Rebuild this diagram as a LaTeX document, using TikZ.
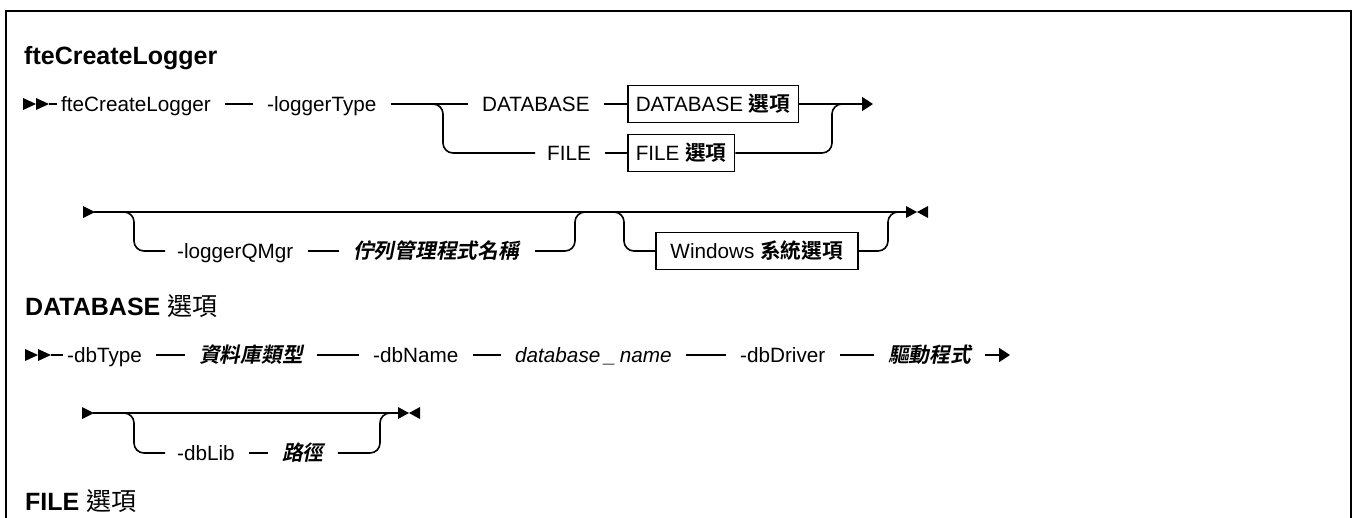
\documentclass[tikz,border=0pt]{standalone}
\usepackage{fontspec}
\setmainfont{Liberation Sans}
\newfontfamily\cjk{Noto Sans CJK TC}
\newfontfamily\cjkb{Noto Sans CJK TC Bold}
\newfontfamily\cjkbi{Noto Sans CJK TC Bold}[FakeSlant=0.2]
\usetikzlibrary{arrows.meta,calc}
\newcommand\fs{\fontsize{20.7}{24}\selectfont}
\newcommand\hs{\fontsize{25}{30}\selectfont}
\newcommand\mkR[3]{\fill (#2,#3-6) -- (#2+#1,#3) -- (#2,#3+6) -- cycle;}
\newcommand\mkL[3]{\fill (#2+#1,#3-6) -- (#2,#3) -- (#2+#1,#3+6) -- cycle;}
\begin{document}
\begin{tikzpicture}[x=1pt,y=-1pt,
 ln/.style={line width=1.6pt},
 txt/.style={inner sep=0pt,text height=14.8pt,text depth=0pt,anchor=west,font=\fs},
 cjt/.style={inner sep=0pt,text height=14.8pt,text depth=0pt,anchor=west,font=\cjkbi\fs},
 optbox/.style={draw,line width=1.5pt,inner xsep=8pt,inner ysep=0pt,minimum height=37pt,text height=14.8pt,text depth=0pt,anchor=west,font=\fs},
 head/.style={inner sep=0pt,anchor=base west,font=\hs\bfseries},
 sep/.style={ln,shorten <=14pt,shorten >=14pt},
 rc/.style={ln,rounded corners=10pt},
 tip/.style={-{Triangle[length=11pt,width=14pt]}}
]
\useasboundingbox (0,0) rectangle (1354,517);
\draw[line width=2pt] (6,530) -- (6,11) -- (1351,11) -- (1351,530);

\node[head] (title) at (24,64) {fteCreateLogger};

% row 1
\mkR{13}{23}{104}\mkR{13}{36}{104}
\coordinate (s1) at (49,104);
\node[txt] (a1) at (61,104) {fteCreateLogger};
\node[txt] (a2) at (267,104) {-loggerType};
\node[txt] (a3) at (482,104) {DATABASE};
\node[optbox] (b1) at (627,104) {DATABASE {\cjkb 選項}};
\coordinate (e1) at (873,104);
\node[txt] (f1) at (547,153) {FILE};
\node[optbox] (b2) at (627,153) {FILE {\cjkb 選項}};
\draw[ln, shorten >=4pt] (s1) -- (a1);
\draw[sep] (a1) -- (a2);
\draw[sep] (a2) -- (a3);
\draw[ln, shorten <=14pt] (a3) -- (b1);
\draw[ln, tip] (b1) -- (e1);
\draw[rc] (423,104) -- (443,104) -- (443,153) -- ([xshift=-12pt]f1.west);
\draw[ln, shorten <=14pt] (f1) -- (b2);
\draw[rc] (b2.east) -- (832,153) -- (832,104) -- (852,104);

% row 2
\mkR{12}{83}{212}
\coordinate (s2) at (94,212);
\coordinate (e2) at (906,212);
\draw[ln] (s2) -- (e2);
\mkR{11}{906}{212}\mkL{11}{917}{212}
\node[txt] (q1) at (177,251) {-loggerQMgr};
\node[cjt] (q2) at (353,251) {佇列管理程式名稱};
\node[optbox, minimum width=202pt] (w) at (655,251) {Windows {\cjkb 系統選項}};
\draw[rc] (114,212) -- (134,212) -- (134,251) -- ([xshift=-12pt]q1.west);
\draw[sep] (q1) -- (q2);
\draw[rc] ([xshift=16pt]q2.east) -- (575,251) -- (575,212) -- (595,212);
\draw[rc] (604,212) -- (624,212) -- (624,251) -- (w.west);
\draw[rc] (w.east) -- (888,251) -- (888,212) -- (906,212);

% DATABASE options
\node[head] (h1) at (25,315) {DATABASE {\cjk\mdseries 選項}};
\mkR{13}{25}{355}\mkR{13}{38}{355}
\coordinate (s4) at (51,355);
\node[txt] (d1) at (67,355) {-dbType};
\node[cjt] (d2) at (199,355) {資料庫類型};
\node[txt] (d3) at (373,355) {-dbName};
\node[txt,font=\fs\itshape] (d4) at (515,355) {database\hspace{4pt}\_\hspace{4pt}name};
\node[txt] (d5) at (740,355) {-dbDriver};
\node[cjt] (d6) at (888,355) {驅動程式};
\coordinate (e4) at (1010,355);
\draw[ln, shorten >=4pt] (s4) -- (d1);
\draw[sep] (d1) -- (d2);
\draw[sep] (d2) -- (d3);
\draw[sep] (d3) -- (d4);
\draw[sep] (d4) -- (d5);
\draw[sep] (d5) -- (d6);
\draw[ln, tip, shorten <=14pt] (d6) -- (e4);

\mkR{12}{82}{413}
\coordinate (s5) at (93,413);
\coordinate (e5) at (398,413);
\draw[ln] (s5) -- (e5);
\mkR{11}{398}{413}\mkL{11}{409}{413}
\node[txt] (l1) at (177,453) {-dbLib};
\node[cjt] (l2) at (282,453) {路徑};
\draw[rc] (114,413) -- (134,413) -- (134,453) -- ([xshift=-12pt]l1.west);
\draw[sep] (l1) -- (l2);
\draw[rc] ([xshift=14pt]l2.east) -- (380,453) -- (380,413) -- (398,413);

\node[head] (h2) at (25,510) {FILE {\cjk\mdseries 選項}};
\end{tikzpicture}
\end{document}
